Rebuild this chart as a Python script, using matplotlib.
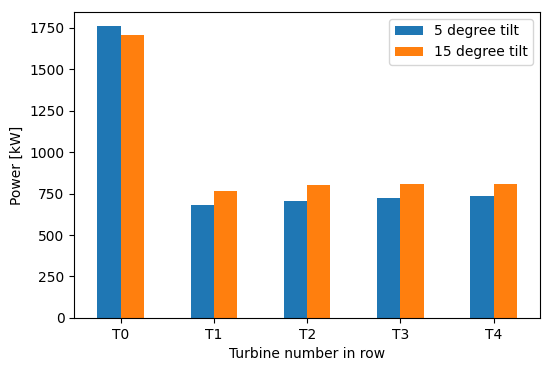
import numpy as np
import matplotlib
matplotlib.use("Agg")
import matplotlib.pyplot as plt

turbines = ["T0", "T1", "T2", "T3", "T4"]
tilt_5 = [1758, 683, 707, 724, 736]
tilt_15 = [1706, 766, 803, 809, 809]

x = np.arange(len(turbines))
width = 0.25

fig, ax = plt.subplots(figsize=(5.49, 3.71), dpi=100)
fig.subplots_adjust(left=0.135, right=0.984, top=0.968, bottom=0.143)

ax.bar(x - width / 2, tilt_5, width, color="#1f77b4", label="5 degree tilt")
ax.bar(x + width / 2, tilt_15, width, color="#ff7f0e", label="15 degree tilt")

ax.set_xticks(x)
ax.set_xticklabels(turbines)
ax.set_xlim(-0.5, len(turbines) - 0.5)
ax.set_xlabel("Turbine number in row")
ax.set_ylabel("Power [kW]")
ax.legend(loc="upper right")

fig.savefig("out.png")
